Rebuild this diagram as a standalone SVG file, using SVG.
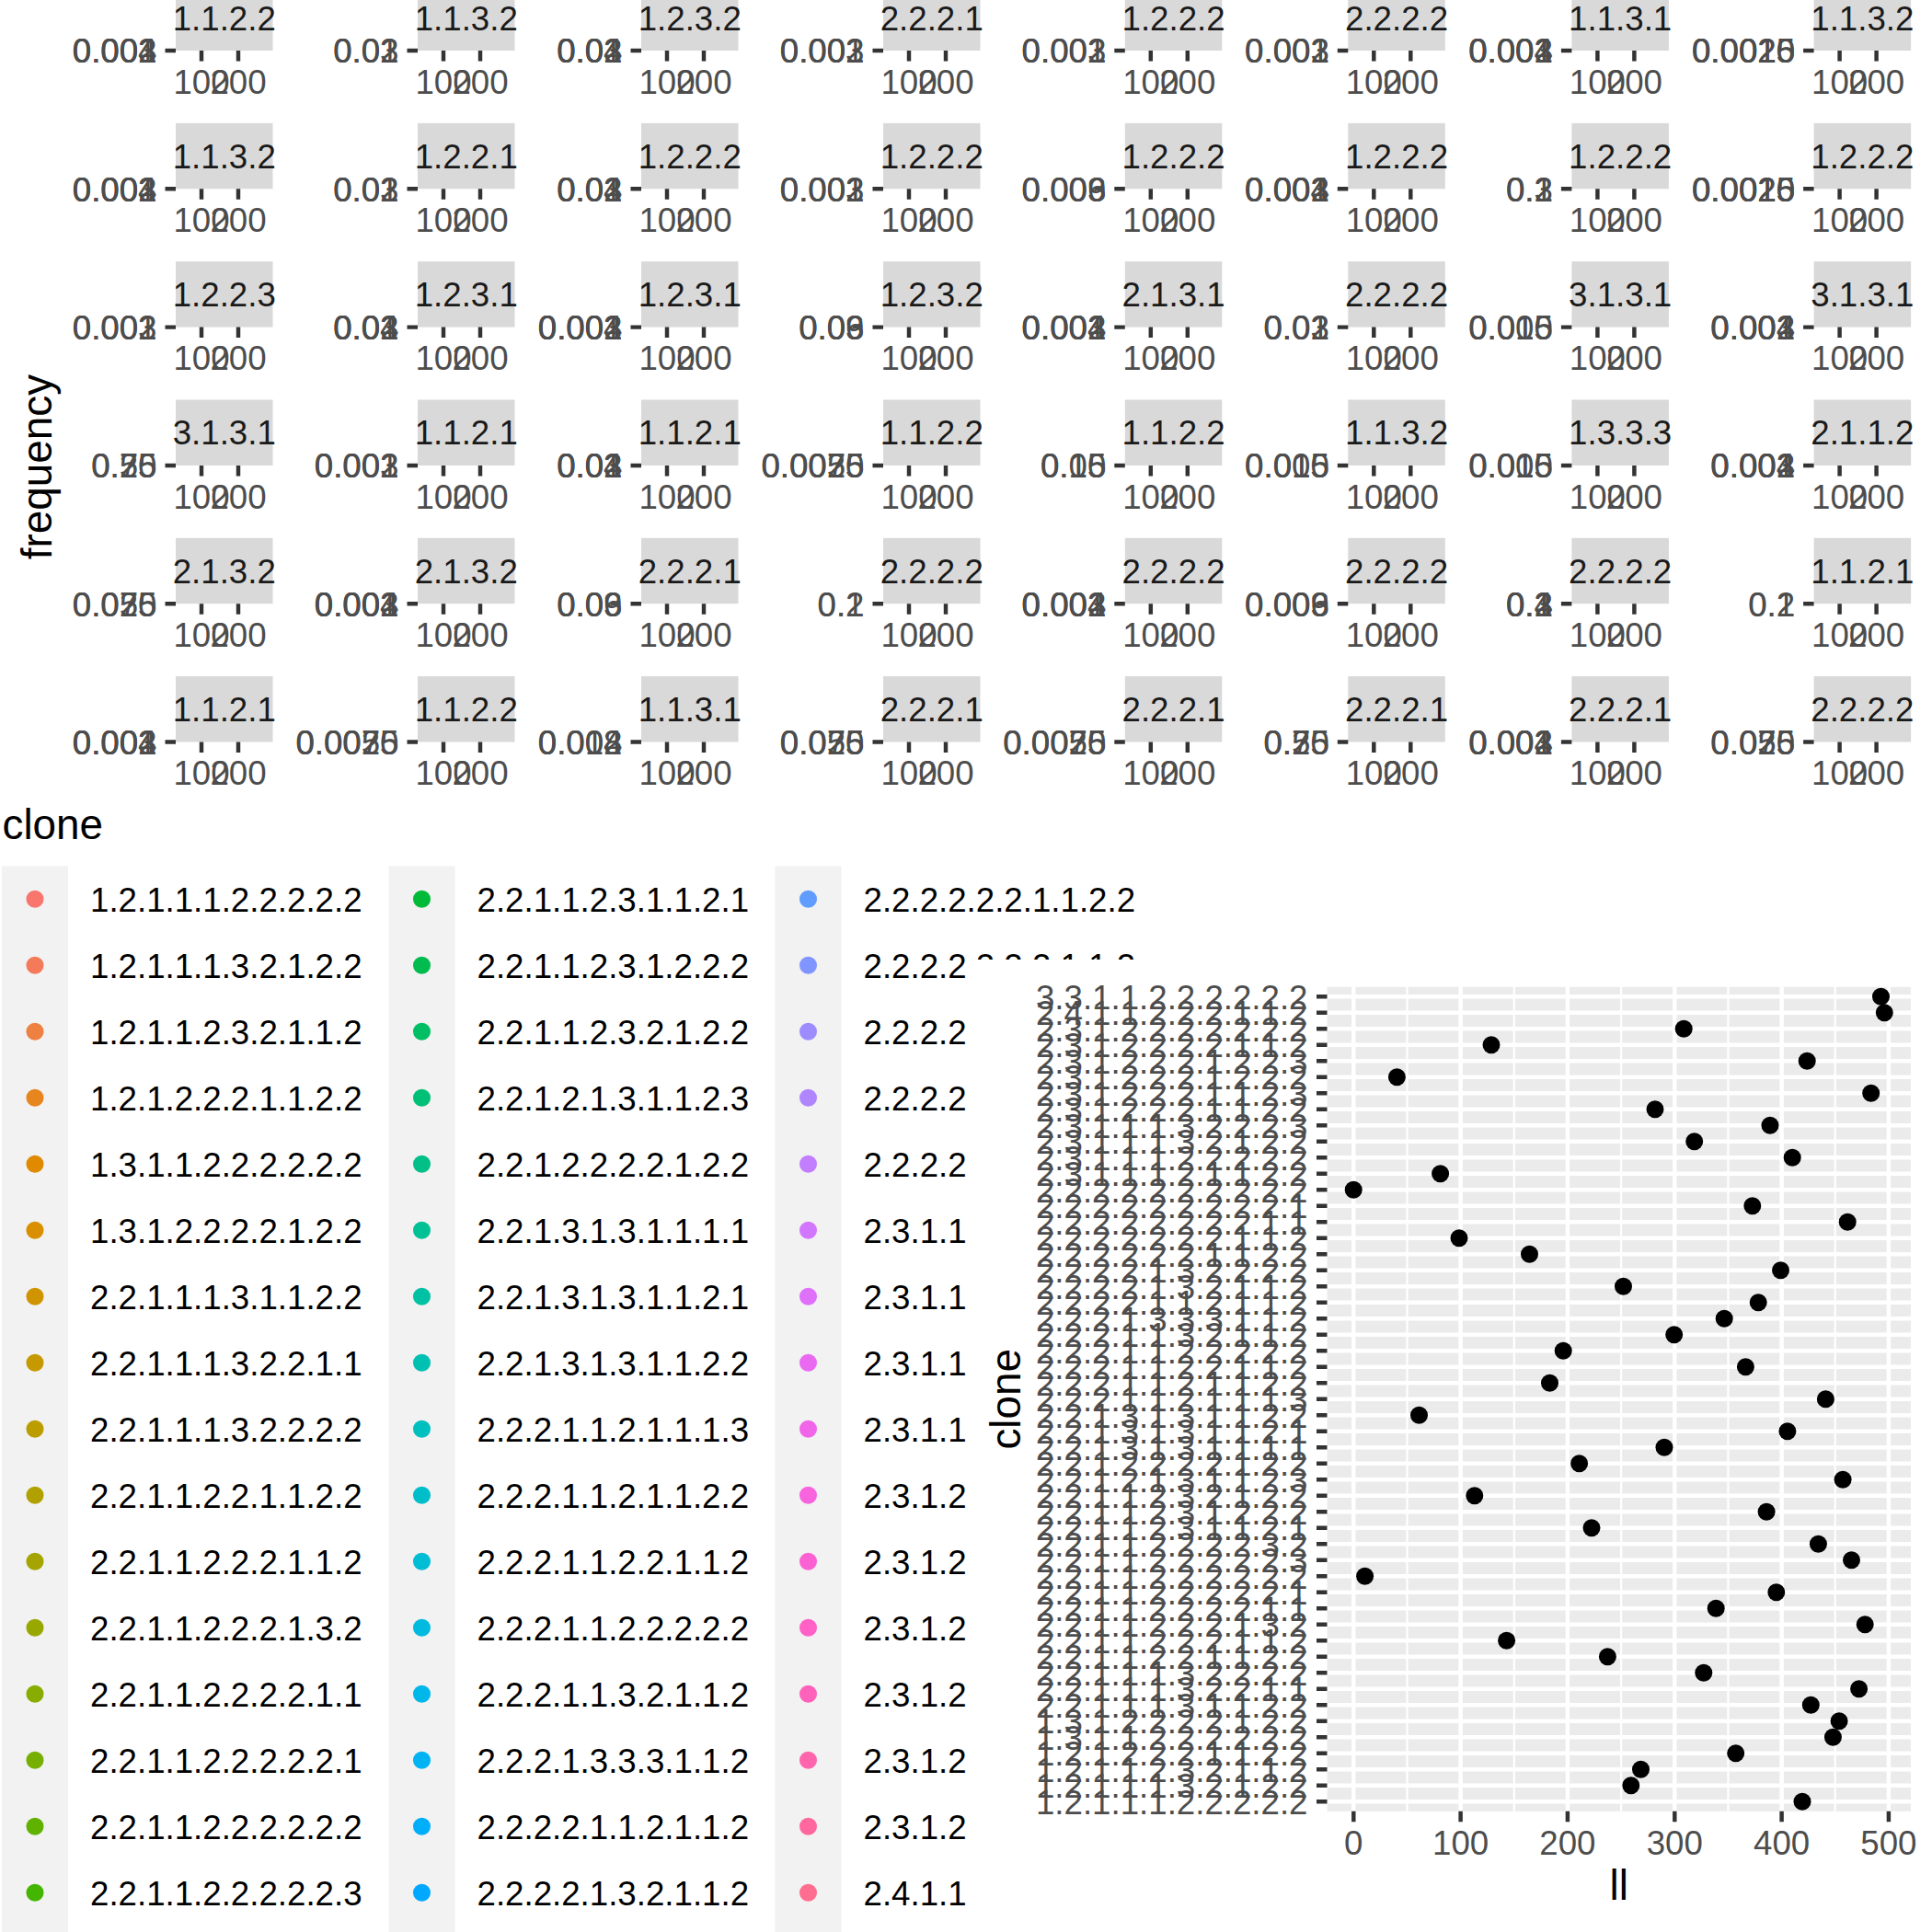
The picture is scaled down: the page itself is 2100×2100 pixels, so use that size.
<svg xmlns="http://www.w3.org/2000/svg" width="2100" height="2100" viewBox="0 0 2100 2100">
<style>
text{font-family:"Liberation Sans",Arial,Helvetica,sans-serif}
.strip{fill:#D9D9D9}
.st{font-size:36.67px;fill:#1A1A1A;text-anchor:middle}
.yl{font-size:36.67px;fill:#4D4D4D;text-anchor:end}
.xl{font-size:36.67px;fill:#4D4D4D;text-anchor:middle}
.tk{stroke:#333333;stroke-width:4.45;fill:none}
.lt{font-size:36.67px;fill:#000000}
.ttl{font-size:45.83px;fill:#000000}
.key{fill:#F2F2F2}
.gmaj{stroke:#FFFFFF;stroke-width:4.45;fill:none}
.gmin{stroke:#FFFFFF;stroke-width:2.22;fill:none}
.pt{fill:#000000}
</style>
<defs>
<g id="fx"><rect class="strip" x="0" y="-71.4" width="105.5" height="71.4"/><path class="tk" d="M-11.5 0H0M28 0V11.5M68 0V11.5"/><text class="xl" x="28" y="46.7">100</text><text class="xl" x="68" y="46.7">200</text></g>
</defs>
<rect width="2100" height="2100" fill="#FFFFFF"/>
<text class="ttl" transform="translate(56,507.5) rotate(-90)" text-anchor="middle">frequency</text>

<g id="facets">
<!-- row 1 -->
<g id="f-1-1" transform="translate(191,55)"><use href="#fx"/><text class="st" x="52.75" y="-22.5">1.1.2.2</text><text class="yl" x="-20.5" y="13.3">0.001</text><text class="yl" x="-20.5" y="13.3">0.002</text><text class="yl" x="-20.5" y="13.3">0.003</text><text class="yl" x="-20.5" y="13.3">0.004</text></g>
<g id="f-1-2" transform="translate(454,55)"><use href="#fx"/><text class="st" x="52.75" y="-22.5">1.1.3.2</text><text class="yl" x="-20.5" y="13.3">0.01</text><text class="yl" x="-20.5" y="13.3">0.02</text><text class="yl" x="-20.5" y="13.3">0.03</text></g>
<g id="f-1-3" transform="translate(697,55)"><use href="#fx"/><text class="st" x="52.75" y="-22.5">1.2.3.2</text><text class="yl" x="-20.5" y="13.3">0.01</text><text class="yl" x="-20.5" y="13.3">0.02</text><text class="yl" x="-20.5" y="13.3">0.03</text><text class="yl" x="-20.5" y="13.3">0.04</text></g>
<g id="f-1-4" transform="translate(960,55)"><use href="#fx"/><text class="st" x="52.75" y="-22.5">2.2.2.1</text><text class="yl" x="-20.5" y="13.3">0.001</text><text class="yl" x="-20.5" y="13.3">0.002</text><text class="yl" x="-20.5" y="13.3">0.003</text></g>
<g id="f-1-5" transform="translate(1222.8,55)"><use href="#fx"/><text class="st" x="52.75" y="-22.5">1.2.2.2</text><text class="yl" x="-20.5" y="13.3">0.001</text><text class="yl" x="-20.5" y="13.3">0.002</text><text class="yl" x="-20.5" y="13.3">0.003</text></g>
<g id="f-1-6" transform="translate(1465.3,55)"><use href="#fx"/><text class="st" x="52.75" y="-22.5">2.2.2.2</text><text class="yl" x="-20.5" y="13.3">0.001</text><text class="yl" x="-20.5" y="13.3">0.002</text><text class="yl" x="-20.5" y="13.3">0.003</text></g>
<g id="f-1-7" transform="translate(1708.4,55)"><use href="#fx"/><text class="st" x="52.75" y="-22.5">1.1.3.1</text><text class="yl" x="-20.5" y="13.3">0.001</text><text class="yl" x="-20.5" y="13.3">0.002</text><text class="yl" x="-20.5" y="13.3">0.003</text><text class="yl" x="-20.5" y="13.3">0.004</text></g>
<g id="f-1-8" transform="translate(1971.6,55)"><use href="#fx"/><text class="st" x="52.75" y="-22.5">1.1.3.2</text><text class="yl" x="-20.5" y="13.3">0.0010</text><text class="yl" x="-20.5" y="13.3">0.0015</text><text class="yl" x="-20.5" y="13.3">0.0020</text><text class="yl" x="-20.5" y="13.3">0.0025</text></g>
<!-- row 2 -->
<g id="f-2-1" transform="translate(191,205.3)"><use href="#fx"/><text class="st" x="52.75" y="-22.5">1.1.3.2</text><text class="yl" x="-20.5" y="13.3">0.001</text><text class="yl" x="-20.5" y="13.3">0.002</text><text class="yl" x="-20.5" y="13.3">0.003</text><text class="yl" x="-20.5" y="13.3">0.004</text></g>
<g id="f-2-2" transform="translate(454,205.3)"><use href="#fx"/><text class="st" x="52.75" y="-22.5">1.2.2.1</text><text class="yl" x="-20.5" y="13.3">0.01</text><text class="yl" x="-20.5" y="13.3">0.02</text><text class="yl" x="-20.5" y="13.3">0.03</text></g>
<g id="f-2-3" transform="translate(697,205.3)"><use href="#fx"/><text class="st" x="52.75" y="-22.5">1.2.2.2</text><text class="yl" x="-20.5" y="13.3">0.01</text><text class="yl" x="-20.5" y="13.3">0.02</text><text class="yl" x="-20.5" y="13.3">0.03</text><text class="yl" x="-20.5" y="13.3">0.04</text></g>
<g id="f-2-4" transform="translate(960,205.3)"><use href="#fx"/><text class="st" x="52.75" y="-22.5">1.2.2.2</text><text class="yl" x="-20.5" y="13.3">0.001</text><text class="yl" x="-20.5" y="13.3">0.002</text><text class="yl" x="-20.5" y="13.3">0.003</text></g>
<g id="f-2-5" transform="translate(1222.8,205.3)"><use href="#fx"/><text class="st" x="52.75" y="-22.5">1.2.2.2</text><text class="yl" x="-20.5" y="13.3">0.003</text><text class="yl" x="-20.5" y="13.3">0.006</text><text class="yl" x="-20.5" y="13.3">0.009</text></g>
<g id="f-2-6" transform="translate(1465.3,205.3)"><use href="#fx"/><text class="st" x="52.75" y="-22.5">1.2.2.2</text><text class="yl" x="-20.5" y="13.3">0.001</text><text class="yl" x="-20.5" y="13.3">0.002</text><text class="yl" x="-20.5" y="13.3">0.003</text><text class="yl" x="-20.5" y="13.3">0.004</text></g>
<g id="f-2-7" transform="translate(1708.4,205.3)"><use href="#fx"/><text class="st" x="52.75" y="-22.5">1.2.2.2</text><text class="yl" x="-20.5" y="13.3">0.1</text><text class="yl" x="-20.5" y="13.3">0.2</text><text class="yl" x="-20.5" y="13.3">0.3</text></g>
<g id="f-2-8" transform="translate(1971.6,205.3)"><use href="#fx"/><text class="st" x="52.75" y="-22.5">1.2.2.2</text><text class="yl" x="-20.5" y="13.3">0.0010</text><text class="yl" x="-20.5" y="13.3">0.0015</text><text class="yl" x="-20.5" y="13.3">0.0020</text><text class="yl" x="-20.5" y="13.3">0.0025</text></g>
<!-- row 3 -->
<g id="f-3-1" transform="translate(191,355.6)"><use href="#fx"/><text class="st" x="52.75" y="-22.5">1.2.2.3</text><text class="yl" x="-20.5" y="13.3">0.001</text><text class="yl" x="-20.5" y="13.3">0.002</text><text class="yl" x="-20.5" y="13.3">0.003</text></g>
<g id="f-3-2" transform="translate(454,355.6)"><use href="#fx"/><text class="st" x="52.75" y="-22.5">1.2.3.1</text><text class="yl" x="-20.5" y="13.3">0.01</text><text class="yl" x="-20.5" y="13.3">0.02</text><text class="yl" x="-20.5" y="13.3">0.03</text><text class="yl" x="-20.5" y="13.3">0.04</text></g>
<g id="f-3-3" transform="translate(697,355.6)"><use href="#fx"/><text class="st" x="52.75" y="-22.5">1.2.3.1</text><text class="yl" x="-20.5" y="13.3">0.001</text><text class="yl" x="-20.5" y="13.3">0.002</text><text class="yl" x="-20.5" y="13.3">0.003</text><text class="yl" x="-20.5" y="13.3">0.004</text></g>
<g id="f-3-4" transform="translate(960,355.6)"><use href="#fx"/><text class="st" x="52.75" y="-22.5">1.2.3.2</text><text class="yl" x="-20.5" y="13.3">0.03</text><text class="yl" x="-20.5" y="13.3">0.06</text><text class="yl" x="-20.5" y="13.3">0.09</text></g>
<g id="f-3-5" transform="translate(1222.8,355.6)"><use href="#fx"/><text class="st" x="52.75" y="-22.5">2.1.3.1</text><text class="yl" x="-20.5" y="13.3">0.001</text><text class="yl" x="-20.5" y="13.3">0.002</text><text class="yl" x="-20.5" y="13.3">0.003</text><text class="yl" x="-20.5" y="13.3">0.004</text></g>
<g id="f-3-6" transform="translate(1465.3,355.6)"><use href="#fx"/><text class="st" x="52.75" y="-22.5">2.2.2.2</text><text class="yl" x="-20.5" y="13.3">0.01</text><text class="yl" x="-20.5" y="13.3">0.02</text><text class="yl" x="-20.5" y="13.3">0.03</text></g>
<g id="f-3-7" transform="translate(1708.4,355.6)"><use href="#fx"/><text class="st" x="52.75" y="-22.5">3.1.3.1</text><text class="yl" x="-20.5" y="13.3">0.005</text><text class="yl" x="-20.5" y="13.3">0.010</text><text class="yl" x="-20.5" y="13.3">0.015</text></g>
<g id="f-3-8" transform="translate(1971.6,355.6)"><use href="#fx"/><text class="st" x="52.75" y="-22.5">3.1.3.1</text><text class="yl" x="-20.5" y="13.3">0.001</text><text class="yl" x="-20.5" y="13.3">0.002</text><text class="yl" x="-20.5" y="13.3">0.003</text><text class="yl" x="-20.5" y="13.3">0.004</text></g>
<!-- row 4 -->
<g id="f-4-1" transform="translate(191,505.9)"><use href="#fx"/><text class="st" x="52.75" y="-22.5">3.1.3.1</text><text class="yl" x="-20.5" y="13.3">0.25</text><text class="yl" x="-20.5" y="13.3">0.50</text><text class="yl" x="-20.5" y="13.3">0.75</text></g>
<g id="f-4-2" transform="translate(454,505.9)"><use href="#fx"/><text class="st" x="52.75" y="-22.5">1.1.2.1</text><text class="yl" x="-20.5" y="13.3">0.001</text><text class="yl" x="-20.5" y="13.3">0.002</text><text class="yl" x="-20.5" y="13.3">0.003</text></g>
<g id="f-4-3" transform="translate(697,505.9)"><use href="#fx"/><text class="st" x="52.75" y="-22.5">1.1.2.1</text><text class="yl" x="-20.5" y="13.3">0.01</text><text class="yl" x="-20.5" y="13.3">0.02</text><text class="yl" x="-20.5" y="13.3">0.03</text><text class="yl" x="-20.5" y="13.3">0.04</text></g>
<g id="f-4-4" transform="translate(960,505.9)"><use href="#fx"/><text class="st" x="52.75" y="-22.5">1.1.2.2</text><text class="yl" x="-20.5" y="13.3">0.0025</text><text class="yl" x="-20.5" y="13.3">0.0050</text><text class="yl" x="-20.5" y="13.3">0.0075</text></g>
<g id="f-4-5" transform="translate(1222.8,505.9)"><use href="#fx"/><text class="st" x="52.75" y="-22.5">1.1.2.2</text><text class="yl" x="-20.5" y="13.3">0.05</text><text class="yl" x="-20.5" y="13.3">0.10</text><text class="yl" x="-20.5" y="13.3">0.15</text></g>
<g id="f-4-6" transform="translate(1465.3,505.9)"><use href="#fx"/><text class="st" x="52.75" y="-22.5">1.1.3.2</text><text class="yl" x="-20.5" y="13.3">0.005</text><text class="yl" x="-20.5" y="13.3">0.010</text><text class="yl" x="-20.5" y="13.3">0.015</text></g>
<g id="f-4-7" transform="translate(1708.4,505.9)"><use href="#fx"/><text class="st" x="52.75" y="-22.5">1.3.3.3</text><text class="yl" x="-20.5" y="13.3">0.005</text><text class="yl" x="-20.5" y="13.3">0.010</text><text class="yl" x="-20.5" y="13.3">0.015</text></g>
<g id="f-4-8" transform="translate(1971.6,505.9)"><use href="#fx"/><text class="st" x="52.75" y="-22.5">2.1.1.2</text><text class="yl" x="-20.5" y="13.3">0.001</text><text class="yl" x="-20.5" y="13.3">0.002</text><text class="yl" x="-20.5" y="13.3">0.003</text><text class="yl" x="-20.5" y="13.3">0.004</text></g>
<!-- row 5 -->
<g id="f-5-1" transform="translate(191,656.2)"><use href="#fx"/><text class="st" x="52.75" y="-22.5">2.1.3.2</text><text class="yl" x="-20.5" y="13.3">0.025</text><text class="yl" x="-20.5" y="13.3">0.050</text><text class="yl" x="-20.5" y="13.3">0.075</text></g>
<g id="f-5-2" transform="translate(454,656.2)"><use href="#fx"/><text class="st" x="52.75" y="-22.5">2.1.3.2</text><text class="yl" x="-20.5" y="13.3">0.001</text><text class="yl" x="-20.5" y="13.3">0.002</text><text class="yl" x="-20.5" y="13.3">0.003</text><text class="yl" x="-20.5" y="13.3">0.004</text></g>
<g id="f-5-3" transform="translate(697,656.2)"><use href="#fx"/><text class="st" x="52.75" y="-22.5">2.2.2.1</text><text class="yl" x="-20.5" y="13.3">0.03</text><text class="yl" x="-20.5" y="13.3">0.06</text><text class="yl" x="-20.5" y="13.3">0.09</text></g>
<g id="f-5-4" transform="translate(960,656.2)"><use href="#fx"/><text class="st" x="52.75" y="-22.5">2.2.2.2</text><text class="yl" x="-20.5" y="13.3">0.1</text><text class="yl" x="-20.5" y="13.3">0.2</text></g>
<g id="f-5-5" transform="translate(1222.8,656.2)"><use href="#fx"/><text class="st" x="52.75" y="-22.5">2.2.2.2</text><text class="yl" x="-20.5" y="13.3">0.001</text><text class="yl" x="-20.5" y="13.3">0.002</text><text class="yl" x="-20.5" y="13.3">0.003</text><text class="yl" x="-20.5" y="13.3">0.004</text></g>
<g id="f-5-6" transform="translate(1465.3,656.2)"><use href="#fx"/><text class="st" x="52.75" y="-22.5">2.2.2.2</text><text class="yl" x="-20.5" y="13.3">0.003</text><text class="yl" x="-20.5" y="13.3">0.006</text><text class="yl" x="-20.5" y="13.3">0.009</text></g>
<g id="f-5-7" transform="translate(1708.4,656.2)"><use href="#fx"/><text class="st" x="52.75" y="-22.5">2.2.2.2</text><text class="yl" x="-20.5" y="13.3">0.1</text><text class="yl" x="-20.5" y="13.3">0.2</text><text class="yl" x="-20.5" y="13.3">0.3</text><text class="yl" x="-20.5" y="13.3">0.4</text></g>
<g id="f-5-8" transform="translate(1971.6,656.2)"><use href="#fx"/><text class="st" x="52.75" y="-22.5">1.1.2.1</text><text class="yl" x="-20.5" y="13.3">0.1</text><text class="yl" x="-20.5" y="13.3">0.2</text></g>
<!-- row 6 -->
<g id="f-6-1" transform="translate(191,806.5)"><use href="#fx"/><text class="st" x="52.75" y="-22.5">1.1.2.1</text><text class="yl" x="-20.5" y="13.3">0.001</text><text class="yl" x="-20.5" y="13.3">0.002</text><text class="yl" x="-20.5" y="13.3">0.003</text><text class="yl" x="-20.5" y="13.3">0.004</text></g>
<g id="f-6-2" transform="translate(454,806.5)"><use href="#fx"/><text class="st" x="52.75" y="-22.5">1.1.2.2</text><text class="yl" x="-20.5" y="13.3">0.0025</text><text class="yl" x="-20.5" y="13.3">0.0050</text><text class="yl" x="-20.5" y="13.3">0.0075</text></g>
<g id="f-6-3" transform="translate(697,806.5)"><use href="#fx"/><text class="st" x="52.75" y="-22.5">1.1.3.1</text><text class="yl" x="-20.5" y="13.3">0.004</text><text class="yl" x="-20.5" y="13.3">0.008</text><text class="yl" x="-20.5" y="13.3">0.012</text></g>
<g id="f-6-4" transform="translate(960,806.5)"><use href="#fx"/><text class="st" x="52.75" y="-22.5">2.2.2.1</text><text class="yl" x="-20.5" y="13.3">0.025</text><text class="yl" x="-20.5" y="13.3">0.050</text><text class="yl" x="-20.5" y="13.3">0.075</text></g>
<g id="f-6-5" transform="translate(1222.8,806.5)"><use href="#fx"/><text class="st" x="52.75" y="-22.5">2.2.2.1</text><text class="yl" x="-20.5" y="13.3">0.0025</text><text class="yl" x="-20.5" y="13.3">0.0050</text><text class="yl" x="-20.5" y="13.3">0.0075</text></g>
<g id="f-6-6" transform="translate(1465.3,806.5)"><use href="#fx"/><text class="st" x="52.75" y="-22.5">2.2.2.1</text><text class="yl" x="-20.5" y="13.3">0.25</text><text class="yl" x="-20.5" y="13.3">0.50</text><text class="yl" x="-20.5" y="13.3">0.75</text></g>
<g id="f-6-7" transform="translate(1708.4,806.5)"><use href="#fx"/><text class="st" x="52.75" y="-22.5">2.2.2.1</text><text class="yl" x="-20.5" y="13.3">0.001</text><text class="yl" x="-20.5" y="13.3">0.002</text><text class="yl" x="-20.5" y="13.3">0.003</text><text class="yl" x="-20.5" y="13.3">0.004</text></g>
<g id="f-6-8" transform="translate(1971.6,806.5)"><use href="#fx"/><text class="st" x="52.75" y="-22.5">2.2.2.2</text><text class="yl" x="-20.5" y="13.3">0.025</text><text class="yl" x="-20.5" y="13.3">0.050</text><text class="yl" x="-20.5" y="13.3">0.075</text></g>
</g>

<g id="legend">
<text class="ttl" x="2.5" y="912">clone</text>
<rect class="key" x="2" y="941.3" width="72" height="1160"/>
<rect class="key" x="422.5" y="941.3" width="72" height="1160"/>
<rect class="key" x="842.5" y="941.3" width="72" height="1160"/>
<g id="legend-col1">
<circle cx="38" cy="977.3" r="9.5" fill="#F8766D"/><text class="lt" x="98" y="990.6">1.2.1.1.1.2.2.2.2.2</text>
<circle cx="38" cy="1049.3" r="9.5" fill="#F37B59"/><text class="lt" x="98" y="1062.6">1.2.1.1.1.3.2.1.2.2</text>
<circle cx="38" cy="1121.3" r="9.5" fill="#EE8042"/><text class="lt" x="98" y="1134.6">1.2.1.1.2.3.2.1.1.2</text>
<circle cx="38" cy="1193.3" r="9.5" fill="#E7851E"/><text class="lt" x="98" y="1206.6">1.2.1.2.2.2.1.1.2.2</text>
<circle cx="38" cy="1265.3" r="9.5" fill="#E08A00"/><text class="lt" x="98" y="1278.6">1.3.1.1.2.2.2.2.2.2</text>
<circle cx="38" cy="1337.3" r="9.5" fill="#D98F00"/><text class="lt" x="98" y="1350.6">1.3.1.2.2.2.2.1.2.2</text>
<circle cx="38" cy="1409.3" r="9.5" fill="#D09400"/><text class="lt" x="98" y="1422.6">2.2.1.1.1.3.1.1.2.2</text>
<circle cx="38" cy="1481.3" r="9.5" fill="#C79900"/><text class="lt" x="98" y="1494.6">2.2.1.1.1.3.2.2.1.1</text>
<circle cx="38" cy="1553.3" r="9.5" fill="#BC9D00"/><text class="lt" x="98" y="1566.6">2.2.1.1.1.3.2.2.2.2</text>
<circle cx="38" cy="1625.3" r="9.5" fill="#B1A100"/><text class="lt" x="98" y="1638.6">2.2.1.1.2.2.1.1.2.2</text>
<circle cx="38" cy="1697.3" r="9.5" fill="#A5A400"/><text class="lt" x="98" y="1710.6">2.2.1.1.2.2.2.1.1.2</text>
<circle cx="38" cy="1769.3" r="9.5" fill="#98A800"/><text class="lt" x="98" y="1782.6">2.2.1.1.2.2.2.1.3.2</text>
<circle cx="38" cy="1841.3" r="9.5" fill="#88AC00"/><text class="lt" x="98" y="1854.6">2.2.1.1.2.2.2.2.1.1</text>
<circle cx="38" cy="1913.3" r="9.5" fill="#76AF00"/><text class="lt" x="98" y="1926.6">2.2.1.1.2.2.2.2.2.1</text>
<circle cx="38" cy="1985.3" r="9.5" fill="#60B200"/><text class="lt" x="98" y="1998.6">2.2.1.1.2.2.2.2.2.2</text>
<circle cx="38" cy="2057.3" r="9.5" fill="#44B500"/><text class="lt" x="98" y="2070.6">2.2.1.1.2.2.2.2.2.3</text>
</g>
<g id="legend-col2">
<circle cx="458.5" cy="977.3" r="9.5" fill="#00BA38"/><text class="lt" x="518.5" y="990.6">2.2.1.1.2.3.1.1.2.1</text>
<circle cx="458.5" cy="1049.3" r="9.5" fill="#00BC4E"/><text class="lt" x="518.5" y="1062.6">2.2.1.1.2.3.1.2.2.2</text>
<circle cx="458.5" cy="1121.3" r="9.5" fill="#00BE64"/><text class="lt" x="518.5" y="1134.6">2.2.1.1.2.3.2.1.2.2</text>
<circle cx="458.5" cy="1193.3" r="9.5" fill="#00BF76"/><text class="lt" x="518.5" y="1206.6">2.2.1.2.1.3.1.1.2.3</text>
<circle cx="458.5" cy="1265.3" r="9.5" fill="#00C087"/><text class="lt" x="518.5" y="1278.6">2.2.1.2.2.2.2.1.2.2</text>
<circle cx="458.5" cy="1337.3" r="9.5" fill="#00C096"/><text class="lt" x="518.5" y="1350.6">2.2.1.3.1.3.1.1.1.1</text>
<circle cx="458.5" cy="1409.3" r="9.5" fill="#00C1A3"/><text class="lt" x="518.5" y="1422.6">2.2.1.3.1.3.1.1.2.1</text>
<circle cx="458.5" cy="1481.3" r="9.5" fill="#00C0B2"/><text class="lt" x="518.5" y="1494.6">2.2.1.3.1.3.1.1.2.2</text>
<circle cx="458.5" cy="1553.3" r="9.5" fill="#00BFBF"/><text class="lt" x="518.5" y="1566.6">2.2.2.1.1.2.1.1.1.3</text>
<circle cx="458.5" cy="1625.3" r="9.5" fill="#00BEC9"/><text class="lt" x="518.5" y="1638.6">2.2.2.1.1.2.1.1.2.2</text>
<circle cx="458.5" cy="1697.3" r="9.5" fill="#00BCD4"/><text class="lt" x="518.5" y="1710.6">2.2.2.1.1.2.2.1.1.2</text>
<circle cx="458.5" cy="1769.3" r="9.5" fill="#00BADF"/><text class="lt" x="518.5" y="1782.6">2.2.2.1.1.2.2.2.2.2</text>
<circle cx="458.5" cy="1841.3" r="9.5" fill="#00B7EA"/><text class="lt" x="518.5" y="1854.6">2.2.2.1.1.3.2.1.1.2</text>
<circle cx="458.5" cy="1913.3" r="9.5" fill="#00B3F2"/><text class="lt" x="518.5" y="1926.6">2.2.2.1.3.3.3.1.1.2</text>
<circle cx="458.5" cy="1985.3" r="9.5" fill="#00AEF9"/><text class="lt" x="518.5" y="1998.6">2.2.2.2.1.1.2.1.1.2</text>
<circle cx="458.5" cy="2057.3" r="9.5" fill="#00A8FF"/><text class="lt" x="518.5" y="2070.6">2.2.2.2.1.3.2.1.1.2</text>
</g>
<g id="legend-col3">
<circle cx="878.5" cy="977.3" r="9.5" fill="#619CFF"/><text class="lt" x="938.5" y="990.6">2.2.2.2.2.2.1.1.2.2</text>
<circle cx="878.5" cy="1049.3" r="9.5" fill="#8095FF"/><text class="lt" x="938.5" y="1062.6">2.2.2.2.2.2.2.1.1.2</text>
<circle cx="878.5" cy="1121.3" r="9.5" fill="#9C8DFF"/><text class="lt" x="938.5" y="1134.6">2.2.2.2.2.2.2.2.1.1</text>
<circle cx="878.5" cy="1193.3" r="9.5" fill="#B086FF"/><text class="lt" x="938.5" y="1206.6">2.2.2.2.2.2.2.2.2.1</text>
<circle cx="878.5" cy="1265.3" r="9.5" fill="#C27EFF"/><text class="lt" x="938.5" y="1278.6">2.2.2.2.2.2.2.2.2.2</text>
<circle cx="878.5" cy="1337.3" r="9.5" fill="#D277FD"/><text class="lt" x="938.5" y="1350.6">2.3.1.1.1.2.1.1.2.2</text>
<circle cx="878.5" cy="1409.3" r="9.5" fill="#DE70F9"/><text class="lt" x="938.5" y="1422.6">2.3.1.1.1.2.2.2.2.2</text>
<circle cx="878.5" cy="1481.3" r="9.5" fill="#E96AF1"/><text class="lt" x="938.5" y="1494.6">2.3.1.1.1.3.2.1.2.2</text>
<circle cx="878.5" cy="1553.3" r="9.5" fill="#F166E8"/><text class="lt" x="938.5" y="1566.6">2.3.1.1.1.3.2.2.2.3</text>
<circle cx="878.5" cy="1625.3" r="9.5" fill="#F863DE"/><text class="lt" x="938.5" y="1638.6">2.3.1.2.2.2.1.1.2.2</text>
<circle cx="878.5" cy="1697.3" r="9.5" fill="#FC61D4"/><text class="lt" x="938.5" y="1710.6">2.3.1.2.2.2.1.1.2.3</text>
<circle cx="878.5" cy="1769.3" r="9.5" fill="#FF61C7"/><text class="lt" x="938.5" y="1782.6">2.3.1.2.2.2.1.2.2.2</text>
<circle cx="878.5" cy="1841.3" r="9.5" fill="#FF62BB"/><text class="lt" x="938.5" y="1854.6">2.3.1.2.2.2.1.2.2.3</text>
<circle cx="878.5" cy="1913.3" r="9.5" fill="#FF65AD"/><text class="lt" x="938.5" y="1926.6">2.3.1.2.2.2.2.1.1.2</text>
<circle cx="878.5" cy="1985.3" r="9.5" fill="#FF689E"/><text class="lt" x="938.5" y="1998.6">2.3.1.2.2.2.2.2.2.2</text>
<circle cx="878.5" cy="2057.3" r="9.5" fill="#FF6D8F"/><text class="lt" x="938.5" y="2070.6">2.4.1.1.2.2.2.1.1.2</text>
</g>
</g>

<g id="inset">
<rect x="1050" y="1043" width="1050" height="1057" fill="#FFFFFF"/>
<rect x="1442.5" y="1072.8" width="634.5" height="896" fill="#EBEBEB"/>
<path class="gmin" d="M1529.5 1072.8V1968.8M1645.8 1072.8V1968.8M1762.1 1072.8V1968.8M1878.4 1072.8V1968.8M1994.7 1072.8V1968.8"/>
<path class="gmaj" d="M1471.3 1072.8V1968.8M1587.6 1072.8V1968.8M1703.9 1072.8V1968.8M1820.3 1072.8V1968.8M1936.6 1072.8V1968.8M2052.9 1072.8V1968.8"/>
<path class="gmaj" d="M1442.5 1083.3H2077M1442.5 1100.8H2077M1442.5 1118.3H2077M1442.5 1135.8H2077M1442.5 1153.3H2077M1442.5 1170.8H2077M1442.5 1188.3H2077M1442.5 1205.8H2077M1442.5 1223.3H2077M1442.5 1240.8H2077M1442.5 1258.3H2077M1442.5 1275.8H2077M1442.5 1293.3H2077M1442.5 1310.8H2077M1442.5 1328.3H2077M1442.5 1345.8H2077M1442.5 1363.3H2077M1442.5 1380.8H2077M1442.5 1398.3H2077M1442.5 1415.8H2077M1442.5 1433.3H2077M1442.5 1450.8H2077M1442.5 1468.3H2077M1442.5 1485.8H2077M1442.5 1503.3H2077M1442.5 1520.8H2077M1442.5 1538.3H2077M1442.5 1555.8H2077M1442.5 1573.3H2077M1442.5 1590.8H2077M1442.5 1608.3H2077M1442.5 1625.8H2077M1442.5 1643.3H2077M1442.5 1660.8H2077M1442.5 1678.3H2077M1442.5 1695.8H2077M1442.5 1713.3H2077M1442.5 1730.8H2077M1442.5 1748.3H2077M1442.5 1765.8H2077M1442.5 1783.3H2077M1442.5 1800.8H2077M1442.5 1818.3H2077M1442.5 1835.8H2077M1442.5 1853.3H2077M1442.5 1870.8H2077M1442.5 1888.3H2077M1442.5 1905.8H2077M1442.5 1923.3H2077M1442.5 1940.8H2077M1442.5 1958.3H2077"/>
<g id="points">
<circle class="pt" cx="2044.5" cy="1083.3" r="9.5"/>
<circle class="pt" cx="2048.3" cy="1100.8" r="9.5"/>
<circle class="pt" cx="1830.2" cy="1118.3" r="9.5"/>
<circle class="pt" cx="1621" cy="1135.8" r="9.5"/>
<circle class="pt" cx="1964.2" cy="1153.3" r="9.5"/>
<circle class="pt" cx="1518.4" cy="1170.8" r="9.5"/>
<circle class="pt" cx="2033.7" cy="1188.3" r="9.5"/>
<circle class="pt" cx="1799" cy="1205.8" r="9.5"/>
<circle class="pt" cx="1924" cy="1223.3" r="9.5"/>
<circle class="pt" cx="1841.7" cy="1240.8" r="9.5"/>
<circle class="pt" cx="1948.2" cy="1258.3" r="9.5"/>
<circle class="pt" cx="1565.6" cy="1275.8" r="9.5"/>
<circle class="pt" cx="1471.2" cy="1293.3" r="9.5"/>
<circle class="pt" cx="1904.8" cy="1310.8" r="9.5"/>
<circle class="pt" cx="2008.2" cy="1328.3" r="9.5"/>
<circle class="pt" cx="1586" cy="1345.8" r="9.5"/>
<circle class="pt" cx="1662.5" cy="1363.3" r="9.5"/>
<circle class="pt" cx="1935.5" cy="1380.8" r="9.5"/>
<circle class="pt" cx="1764.5" cy="1398.3" r="9.5"/>
<circle class="pt" cx="1911.2" cy="1415.8" r="9.5"/>
<circle class="pt" cx="1874.2" cy="1433.3" r="9.5"/>
<circle class="pt" cx="1819.7" cy="1450.8" r="9.5"/>
<circle class="pt" cx="1699.2" cy="1468.3" r="9.5"/>
<circle class="pt" cx="1897.4" cy="1485.8" r="9.5"/>
<circle class="pt" cx="1684.5" cy="1503.3" r="9.5"/>
<circle class="pt" cx="1984.4" cy="1520.8" r="9.5"/>
<circle class="pt" cx="1542.5" cy="1538.3" r="9.5"/>
<circle class="pt" cx="1942.9" cy="1555.8" r="9.5"/>
<circle class="pt" cx="1809" cy="1573.3" r="9.5"/>
<circle class="pt" cx="1716.6" cy="1590.8" r="9.5"/>
<circle class="pt" cx="2003.1" cy="1608.3" r="9.5"/>
<circle class="pt" cx="1602.8" cy="1625.8" r="9.5"/>
<circle class="pt" cx="1920.1" cy="1643.3" r="9.5"/>
<circle class="pt" cx="1730" cy="1660.8" r="9.5"/>
<circle class="pt" cx="1976.4" cy="1678.3" r="9.5"/>
<circle class="pt" cx="2012.5" cy="1695.8" r="9.5"/>
<circle class="pt" cx="1483.6" cy="1713.3" r="9.5"/>
<circle class="pt" cx="1930.8" cy="1730.8" r="9.5"/>
<circle class="pt" cx="1865.2" cy="1748.3" r="9.5"/>
<circle class="pt" cx="2027.2" cy="1765.8" r="9.5"/>
<circle class="pt" cx="1637.6" cy="1783.3" r="9.5"/>
<circle class="pt" cx="1747.4" cy="1800.8" r="9.5"/>
<circle class="pt" cx="1851.8" cy="1818.3" r="9.5"/>
<circle class="pt" cx="2020.6" cy="1835.8" r="9.5"/>
<circle class="pt" cx="1968.3" cy="1853.3" r="9.5"/>
<circle class="pt" cx="1999.1" cy="1870.8" r="9.5"/>
<circle class="pt" cx="1992.4" cy="1888.3" r="9.5"/>
<circle class="pt" cx="1886.7" cy="1905.8" r="9.5"/>
<circle class="pt" cx="1783.5" cy="1923.3" r="9.5"/>
<circle class="pt" cx="1772.8" cy="1940.8" r="9.5"/>
<circle class="pt" cx="1959" cy="1958.3" r="9.5"/>
</g>
<path class="tk" d="M1431 1083.3H1442.5M1431 1100.8H1442.5M1431 1118.3H1442.5M1431 1135.8H1442.5M1431 1153.3H1442.5M1431 1170.8H1442.5M1431 1188.3H1442.5M1431 1205.8H1442.5M1431 1223.3H1442.5M1431 1240.8H1442.5M1431 1258.3H1442.5M1431 1275.8H1442.5M1431 1293.3H1442.5M1431 1310.8H1442.5M1431 1328.3H1442.5M1431 1345.8H1442.5M1431 1363.3H1442.5M1431 1380.8H1442.5M1431 1398.3H1442.5M1431 1415.8H1442.5M1431 1433.3H1442.5M1431 1450.8H1442.5M1431 1468.3H1442.5M1431 1485.8H1442.5M1431 1503.3H1442.5M1431 1520.8H1442.5M1431 1538.3H1442.5M1431 1555.8H1442.5M1431 1573.3H1442.5M1431 1590.8H1442.5M1431 1608.3H1442.5M1431 1625.8H1442.5M1431 1643.3H1442.5M1431 1660.8H1442.5M1431 1678.3H1442.5M1431 1695.8H1442.5M1431 1713.3H1442.5M1431 1730.8H1442.5M1431 1748.3H1442.5M1431 1765.8H1442.5M1431 1783.3H1442.5M1431 1800.8H1442.5M1431 1818.3H1442.5M1431 1835.8H1442.5M1431 1853.3H1442.5M1431 1870.8H1442.5M1431 1888.3H1442.5M1431 1905.8H1442.5M1431 1923.3H1442.5M1431 1940.8H1442.5M1431 1958.3H1442.5"/>
<path class="tk" d="M1471.3 1968.8V1980.3M1587.6 1968.8V1980.3M1703.9 1968.8V1980.3M1820.3 1968.8V1980.3M1936.6 1968.8V1980.3M2052.9 1968.8V1980.3"/>
<g id="inset-ylabels">
<text class="yl" x="1421.5" y="1096.6">3.3.1.1.2.2.2.2.2.2</text>
<text class="yl" x="1421.5" y="1114.1">2.4.1.1.2.2.2.1.1.2</text>
<text class="yl" x="1421.5" y="1131.6">2.3.1.2.2.2.2.2.2.2</text>
<text class="yl" x="1421.5" y="1149.1">2.3.1.2.2.2.2.1.1.2</text>
<text class="yl" x="1421.5" y="1166.6">2.3.1.2.2.2.1.2.2.3</text>
<text class="yl" x="1421.5" y="1184.1">2.3.1.2.2.2.1.2.2.2</text>
<text class="yl" x="1421.5" y="1201.6">2.3.1.2.2.2.1.1.2.3</text>
<text class="yl" x="1421.5" y="1219.1">2.3.1.2.2.2.1.1.2.2</text>
<text class="yl" x="1421.5" y="1236.6">2.3.1.1.1.3.2.2.2.3</text>
<text class="yl" x="1421.5" y="1254.1">2.3.1.1.1.3.2.1.2.2</text>
<text class="yl" x="1421.5" y="1271.6">2.3.1.1.1.2.2.2.2.2</text>
<text class="yl" x="1421.5" y="1289.1">2.3.1.1.1.2.1.1.2.2</text>
<text class="yl" x="1421.5" y="1306.6">2.2.2.2.2.2.2.2.2.2</text>
<text class="yl" x="1421.5" y="1324.1">2.2.2.2.2.2.2.2.2.1</text>
<text class="yl" x="1421.5" y="1341.6">2.2.2.2.2.2.2.2.1.1</text>
<text class="yl" x="1421.5" y="1359.1">2.2.2.2.2.2.2.1.1.2</text>
<text class="yl" x="1421.5" y="1376.6">2.2.2.2.2.2.1.1.2.2</text>
<text class="yl" x="1421.5" y="1394.1">2.2.2.2.1.3.2.2.2.2</text>
<text class="yl" x="1421.5" y="1411.6">2.2.2.2.1.3.2.1.1.2</text>
<text class="yl" x="1421.5" y="1429.1">2.2.2.2.1.1.2.1.1.2</text>
<text class="yl" x="1421.5" y="1446.6">2.2.2.1.3.3.3.1.1.2</text>
<text class="yl" x="1421.5" y="1464.1">2.2.2.1.1.3.2.1.1.2</text>
<text class="yl" x="1421.5" y="1481.6">2.2.2.1.1.2.2.2.2.2</text>
<text class="yl" x="1421.5" y="1499.1">2.2.2.1.1.2.2.1.1.2</text>
<text class="yl" x="1421.5" y="1516.6">2.2.2.1.1.2.1.1.2.2</text>
<text class="yl" x="1421.5" y="1534.1">2.2.2.1.1.2.1.1.1.3</text>
<text class="yl" x="1421.5" y="1551.6">2.2.1.3.1.3.1.1.2.2</text>
<text class="yl" x="1421.5" y="1569.1">2.2.1.3.1.3.1.1.2.1</text>
<text class="yl" x="1421.5" y="1586.6">2.2.1.3.1.3.1.1.1.1</text>
<text class="yl" x="1421.5" y="1604.1">2.2.1.2.2.2.2.1.2.2</text>
<text class="yl" x="1421.5" y="1621.6">2.2.1.2.1.3.1.1.2.3</text>
<text class="yl" x="1421.5" y="1639.1">2.2.1.1.2.3.2.1.2.2</text>
<text class="yl" x="1421.5" y="1656.6">2.2.1.1.2.3.1.2.2.2</text>
<text class="yl" x="1421.5" y="1674.1">2.2.1.1.2.3.1.1.2.1</text>
<text class="yl" x="1421.5" y="1691.6">2.2.1.1.2.2.2.2.3.2</text>
<text class="yl" x="1421.5" y="1709.1">2.2.1.1.2.2.2.2.2.3</text>
<text class="yl" x="1421.5" y="1726.6">2.2.1.1.2.2.2.2.2.2</text>
<text class="yl" x="1421.5" y="1744.1">2.2.1.1.2.2.2.2.2.1</text>
<text class="yl" x="1421.5" y="1761.6">2.2.1.1.2.2.2.2.1.1</text>
<text class="yl" x="1421.5" y="1779.1">2.2.1.1.2.2.2.1.3.2</text>
<text class="yl" x="1421.5" y="1796.6">2.2.1.1.2.2.2.1.1.2</text>
<text class="yl" x="1421.5" y="1814.1">2.2.1.1.2.2.1.1.2.2</text>
<text class="yl" x="1421.5" y="1831.6">2.2.1.1.1.3.2.2.2.2</text>
<text class="yl" x="1421.5" y="1849.1">2.2.1.1.1.3.2.2.1.1</text>
<text class="yl" x="1421.5" y="1866.6">2.2.1.1.1.3.1.1.2.2</text>
<text class="yl" x="1421.5" y="1884.1">1.3.1.2.2.2.2.1.2.2</text>
<text class="yl" x="1421.5" y="1901.6">1.3.1.1.2.2.2.2.2.2</text>
<text class="yl" x="1421.5" y="1919.1">1.2.1.2.2.2.1.1.2.2</text>
<text class="yl" x="1421.5" y="1936.6">1.2.1.1.2.3.2.1.1.2</text>
<text class="yl" x="1421.5" y="1954.1">1.2.1.1.1.3.2.1.2.2</text>
<text class="yl" x="1421.5" y="1971.6">1.2.1.1.1.2.2.2.2.2</text>
</g>
<text class="xl" x="1471.3" y="2016">0</text>
<text class="xl" x="1587.6" y="2016">100</text>
<text class="xl" x="1703.9" y="2016">200</text>
<text class="xl" x="1820.3" y="2016">300</text>
<text class="xl" x="1936.6" y="2016">400</text>
<text class="xl" x="2052.9" y="2016">500</text>
<text class="ttl" x="1759.8" y="2065" text-anchor="middle">ll</text>
<text class="ttl" transform="translate(1109,1520.8) rotate(-90)" text-anchor="middle">clone</text>
</g>
</svg>
